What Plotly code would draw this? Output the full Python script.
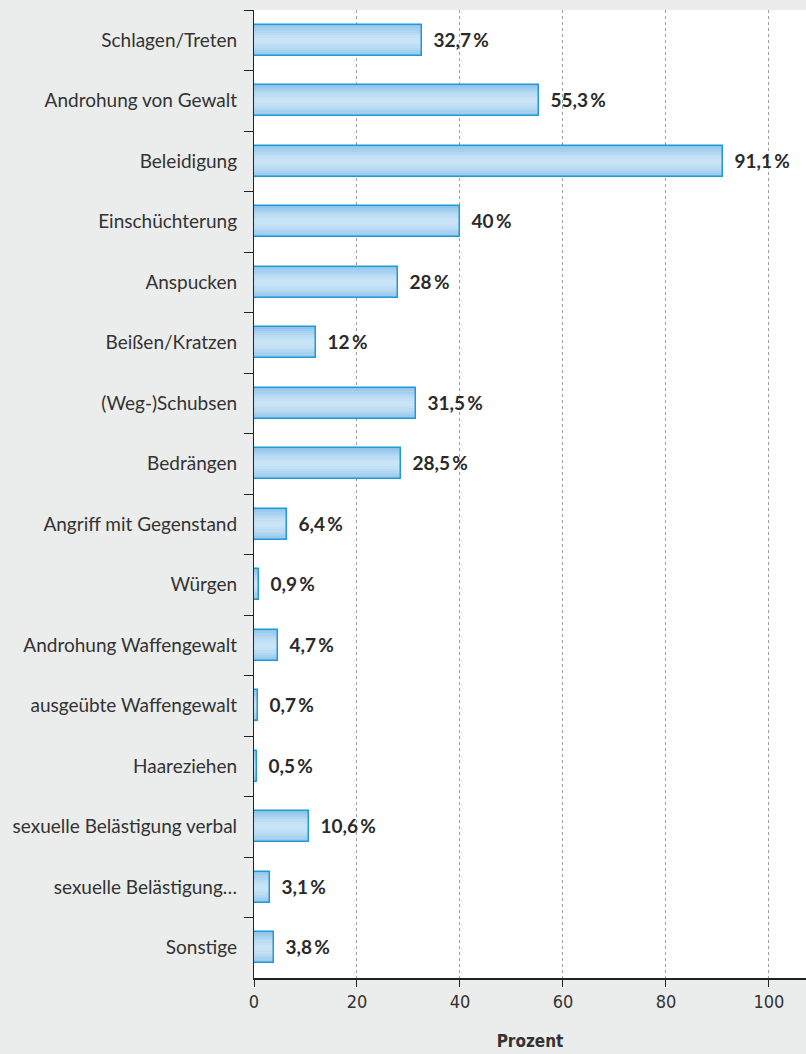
import plotly.graph_objects as go

categories = ["Schlagen/Treten", "Androhung von Gewalt", "Beleidigung", "Einschüchterung",
              "Anspucken", "Beißen/Kratzen", "(Weg-)Schubsen", "Bedrängen",
              "Angriff mit Gegenstand", "Würgen", "Androhung Waffengewalt",
              "ausgeübte Waffengewalt", "Haareziehen", "sexuelle Belästigung verbal",
              "sexuelle Belästigung…", "Sonstige"]
values = [32.7, 55.3, 91.1, 40, 28, 12, 31.5, 28.5, 6.4, 0.9, 4.7, 0.7, 0.5, 10.6, 3.1, 3.8]
labels = ["32,7", "55,3", "91,1", "40", "28", "12", "31,5", "28,5", "6,4", "0,9", "4,7",
          "0,7", "0,5", "10,6", "3,1", "3,8"]
tick_vals = [0, 20, 40, 60, 80, 100]

fig = go.Figure()
# layered fills to imitate the vertical gradient of the bars
layers = [(0.52, "#90c5eb"), (0.46, "#9ccbed"), (0.39, "#a8d1ef"), (0.32, "#b2d7f1"),
          (0.24, "#bbdcf3"), (0.16, "#c3e1f5"), (0.08, "#c8e4f6")]
for w, c in layers:
    fig.add_trace(go.Bar(x=values, y=categories, orientation="h", width=w,
                         marker=dict(color=c, line=dict(width=0)),
                         hoverinfo="skip", showlegend=False))
# outline + labels
fig.add_trace(go.Bar(x=values, y=categories, orientation="h", width=0.52,
                     marker=dict(color="rgba(0,0,0,0)", line=dict(color="#1e9ad8", width=1.5)),
                     text=["  " + t + "\u2009%" for t in labels], textposition="outside",
                     cliponaxis=False,
                     textfont=dict(family="Lato", size=19, color="#2a2a2a", weight="bold"),
                     showlegend=False))

fig.update_layout(
    width=806, height=1054,
    margin=dict(l=254, r=0, t=10, b=76),
    paper_bgcolor="#ebecec", plot_bgcolor="#ffffff",
    barmode="overlay", bargap=0,
    font=dict(family="Lato", color="#333333"),
)
fig.update_yaxes(
    type="category", autorange="reversed", showline=True, linecolor="#222222", linewidth=1.2,
    ticks="outside", tickson="boundaries", ticklen=9, tickcolor="#222222",
    ticklabelstandoff=12,
    tickfont=dict(family="Lato", size=19, color="#333333"), showgrid=False,
)
fig.update_xaxes(
    range=[0, 107.2], tickvals=tick_vals, showline=True, linecolor="#222222", linewidth=1.5,
    ticks="outside", ticklen=7, tickcolor="#222222",
    tickfont=dict(family="DejaVu Sans Condensed, Liberation Sans Narrow, Roboto, sans-serif",
                  size=18, color="#333333"),
    showgrid=True, gridcolor="#a0a0a0", griddash="dot", gridwidth=1, zeroline=False,
    title=dict(text="<b>Prozent</b>", standoff=24,
               font=dict(family="DejaVu Sans Condensed, Roboto, sans-serif", size=17,
                         color="#333333")),
)
fig.write_html("out.html", config={"displayModeBar": False},
               post_script="document.body.style.margin='0';")
